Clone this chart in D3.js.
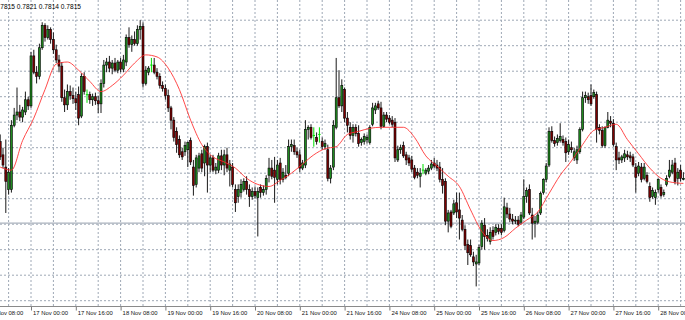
<!DOCTYPE html>
<html>
<head>
<meta charset="utf-8">
<script src="https://cdn.jsdelivr.net/npm/d3@7"></script>
<style>
	html, body { margin: 0; padding: 0; background: #fff; }
	svg { display: block; }
</style>
</head>
<body>
<svg id="chart" width="685" height="320"></svg>
<script>
// prices are kept in pips (1/10000), one entry per hourly bar
var PIP = 0.0001;

var opens = [
	7856,7843,7831,7809,7809,7872,7882,7885,7880,7885,
	7897,7891,7940,7924,7920,7948,7970,7958,7966,7956,
	7946,7936,7930,7899,7892,7905,7901,7898,7902,7881,
	7920,7902,7902,7897,7900,7896,7893,7913,7931,7934,
	7928,7933,7926,7934,7927,7934,7958,7951,7956,7952,
	7966,7969,7913,7924,7931,7931,7924,7920,7911,7908,
	7901,7889,7877,7866,7858,7846,7846,7848,7857,7831,
	7814,7830,7844,7835,7851,7833,7840,7828,7828,7842,
	7833,7843,7828,7831,7809,7802,7806,7809,7817,7809,
	7802,7807,7801,7811,7806,7809,7823,7830,7828,7819,
	7835,7819,7823,7825,7851,7852,7846,7843,7830,7833,
	7868,7870,7862,7860,7863,7856,7851,7848,7820,7831,
	7870,7899,7891,7907,7879,7870,7862,7870,7864,7855,
	7856,7858,7855,7873,7887,7893,7889,7871,7882,7879,
	7877,7875,7838,7848,7852,7843,7840,7838,7830,7826,
	7822,7828,7825,7827,7830,7835,7833,7831,7819,7817,
	7778,7787,7786,7796,7789,7779,7770,7755,7754,7743,
	7736,7737,7753,7774,7764,7758,7769,7767,7771,7771,
	7769,7791,7785,7780,7778,7779,7777,7782,7802,7809,
	7784,7776,7777,7786,7806,7819,7833,7866,7857,7855,
	7857,7858,7856,7846,7850,7840,7838,7846,7868,7899,
	7900,7901,7900,7902,7870,7867,7852,7870,7876,7874,
	7851,7840,7838,7840,7843,7842,7841,7831,7825,7831,
	7820,7823,7812,7802,7801,7809,7811,7804,7814,7822,
	7826,7835,7820,7828,7819
];

var highs = [
	7863,7850,7858,7830,7877,7889,7909,7892,7890,7905,
	7900,7944,7946,7930,7952,7973,7972,7970,7968,7963,
	7951,7941,7934,7907,7912,7911,7909,7905,7910,7923,
	7924,7907,7905,7903,7904,7901,7917,7936,7938,7940,
	7936,7938,7936,7938,7941,7961,7968,7960,7964,7970,
	7975,7973,7930,7930,7938,7938,7928,7923,7915,7912,
	7907,7891,7880,7870,7862,7850,7856,7856,7860,7838,
	7843,7845,7848,7853,7855,7843,7843,7835,7845,7848,
	7848,7850,7838,7835,7814,7814,7819,7820,7822,7814,
	7811,7812,7811,7814,7813,7823,7840,7838,7841,7838,
	7840,7830,7833,7858,7858,7858,7850,7848,7838,7877,
	7872,7873,7870,7865,7870,7860,7858,7853,7833,7877,
	7938,7926,7917,7909,7885,7875,7873,7873,7872,7860,
	7864,7863,7872,7894,7894,7896,7895,7885,7885,7882,
	7881,7879,7852,7853,7856,7846,7843,7842,7833,7830,
	7830,7834,7830,7833,7838,7840,7838,7836,7830,7820,
	7789,7789,7799,7806,7806,7784,7774,7760,7760,7748,
	7745,7755,7779,7781,7770,7772,7773,7775,7775,7775,
	7801,7796,7791,7785,7783,7783,7787,7819,7811,7814,
	7791,7783,7787,7807,7820,7835,7870,7871,7861,7863,
	7874,7862,7860,7858,7856,7850,7852,7870,7905,7905,
	7904,7912,7907,7905,7873,7871,7871,7885,7881,7878,
	7855,7846,7843,7848,7847,7846,7844,7835,7836,7835,
	7835,7826,7816,7811,7809,7820,7814,7809,7823,7838,
	7838,7840,7830,7833,7826
];

var lows = [
	7838,7830,7786,7804,7806,7870,7877,7876,7875,7882,
	7887,7889,7922,7913,7917,7946,7954,7956,7952,7942,
	7933,7924,7895,7885,7887,7897,7893,7887,7872,7879,
	7902,7894,7893,7891,7892,7884,7884,7909,7924,7924,
	7922,7924,7923,7924,7924,7930,7948,7944,7950,7950,
	7956,7909,7911,7921,7924,7922,7917,7908,7905,7897,
	7885,7868,7856,7845,7840,7838,7842,7831,7833,7803,
	7811,7826,7826,7822,7806,7826,7826,7824,7825,7828,
	7823,7826,7812,7811,7787,7796,7801,7807,7804,7792,
	7799,7800,7763,7801,7803,7804,7816,7819,7796,7814,
	7814,7816,7819,7822,7846,7843,7840,7826,7828,7830,
	7858,7858,7851,7853,7855,7848,7848,7817,7815,7828,
	7868,7889,7885,7875,7865,7858,7855,7861,7851,7852,
	7853,7854,7853,7871,7883,7887,7868,7870,7875,7873,
	7870,7836,7836,7844,7840,7833,7832,7826,7819,7820,
	7811,7824,7823,7824,7828,7830,7827,7816,7805,7774,
	7767,7771,7784,7781,7760,7768,7750,7735,7743,7734,
	7714,7735,7750,7750,7758,7755,7760,7764,7765,7764,
	7767,7781,7777,7775,7775,7773,7775,7780,7796,7784,
	7760,7762,7775,7784,7804,7816,7831,7855,7851,7852,
	7855,7852,7836,7843,7845,7837,7834,7844,7866,7894,
	7893,7891,7898,7855,7863,7850,7850,7869,7870,7851,
	7828,7834,7835,7836,7838,7836,7831,7806,7822,7816,
	7818,7815,7797,7800,7794,7806,7801,7802,7812,7820,
	7824,7814,7813,7817,7818
];

var closes = [
	7841,7833,7817,7826,7872,7882,7885,7880,7887,7897,
	7891,7940,7924,7920,7948,7970,7958,7966,7956,7946,
	7936,7930,7899,7892,7905,7901,7898,7894,7879,7920,
	7905,7902,7897,7900,7896,7893,7913,7931,7934,7928,
	7933,7926,7934,7927,7936,7958,7951,7956,7952,7966,
	7969,7913,7926,7928,7931,7924,7920,7911,7908,7901,
	7889,7877,7860,7853,7843,7841,7852,7855,7836,7813,
	7840,7842,7830,7851,7833,7840,7828,7831,7842,7833,
	7843,7830,7834,7814,7796,7809,7814,7817,7809,7802,
	7807,7803,7807,7806,7809,7820,7830,7822,7821,7833,
	7819,7826,7821,7851,7853,7846,7843,7830,7835,7868,
	7870,7860,7862,7856,7863,7851,7854,7820,7830,7872,
	7899,7891,7911,7879,7872,7862,7870,7864,7854,7858,
	7861,7860,7870,7889,7891,7889,7871,7882,7878,7875,
	7873,7840,7848,7850,7842,7838,7835,7829,7821,7823,
	7825,7828,7828,7830,7834,7832,7830,7819,7813,7778,
	7786,7773,7795,7787,7781,7770,7754,7747,7745,7738,
	7738,7752,7776,7763,7761,7767,7763,7772,7768,7767,
	7792,7785,7780,7778,7779,7775,7784,7802,7808,7786,
	7776,7778,7784,7805,7819,7832,7866,7857,7854,7859,
	7861,7855,7845,7853,7848,7846,7848,7868,7899,7901,
	7897,7893,7904,7868,7867,7852,7870,7877,7874,7853,
	7838,7838,7841,7844,7841,7840,7833,7821,7832,7819,
	7831,7817,7801,7808,7806,7819,7803,7806,7820,7828,
	7833,7817,7826,7820,7820
];

// moving average, read every 4th bar
var maStep = 4;
var maValues = [
	7831,7828,7857,7879,7907,7932,7934,7926,7915,7905,
	7911,7921,7933,7941,7939,7928,7907,7877,7853,7841,
	7836,7830,7820,7814,7812,7818,7825,7834,7843,7849,
	7851,7863,7866,7869,7870,7870,7870,7860,7842,7832,
	7822,7812,7789,7768,7759,7762,7771,7779,7787,7805,
	7823,7837,7853,7867,7870,7873,7858,7844,7830,7820,
	7816,7815
];

var tickLabels = [
	"16 Nov 08:00","17 Nov 00:00","17 Nov 16:00","18 Nov 08:00",
	"19 Nov 00:00","19 Nov 16:00","20 Nov 08:00","21 Nov 00:00",
	"21 Nov 16:00","24 Nov 08:00","25 Nov 00:00","25 Nov 16:00",
	"26 Nov 08:00","27 Nov 00:00","27 Nov 16:00","28 Nov 00:00"
];
var firstTickBar = -5, barsPerTick = 16;
var firstGridBar = 3, barsPerGrid = 8;

var gridLevels = [7700,7725,7750,7775,7800,7825,7850,7875,7900,7925,7950,7975];
var priceLine = 7776;
var headerValues = [0.7815, 0.7821, 0.7814, 0.7815];

var W = 685, H = 320, axisY = 306.5;
var svg = d3.select("#chart");

var x = d3.scaleLinear().domain([0, opens.length - 1]).range([0.2, 683.4]);
var y = d3.scaleLinear().domain([0.7700, 0.7975]).range([300.7, 20.2]);

var bars = opens.map(function(o, i){
	return {i: i, o: o * PIP, h: highs[i] * PIP, l: lows[i] * PIP, c: closes[i] * PIP};
});

// grid
var gridBars = [];
for (var g = firstGridBar; x(g) < W; g += barsPerGrid) gridBars.push(g);

var grid = svg.append("g")
	.attr("stroke", "#9ea8b6")
	.attr("stroke-width", 1)
	.attr("stroke-dasharray", "2,2");

grid.selectAll("line.v")
	.data(gridBars)
	.enter()
	.append("line")
		.attr("class", "v")
		.attr("x1", function(d){ return x(d); })
		.attr("x2", function(d){ return x(d); })
		.attr("y1", 0)
		.attr("y2", axisY);

grid.selectAll("line.h")
	.data(gridLevels)
	.enter()
	.append("line")
		.attr("class", "h")
		.attr("x1", 0)
		.attr("x2", W)
		.attr("y1", function(d){ return y(d * PIP); })
		.attr("y2", function(d){ return y(d * PIP); });

svg.append("line")
	.attr("x1", 0).attr("x2", W)
	.attr("y1", y(priceLine * PIP)).attr("y2", y(priceLine * PIP))
	.attr("stroke", "#aab2bd")
	.attr("stroke-width", 1.2);

// candles
var candles = svg.append("g").selectAll("g")
	.data(bars)
	.enter()
	.append("g");

candles.append("line")
	.attr("x1", function(d){ return x(d.i); })
	.attr("x2", function(d){ return x(d.i); })
	.attr("y1", function(d){ return y(d.h); })
	.attr("y2", function(d){ return y(d.l); })
	.attr("stroke", function(d){ return d.o === d.c ? "#00e000" : "#1a1a1a"; })
	.attr("stroke-width", 1);

candles.filter(function(d){ return d.o !== d.c; })
	.append("rect")
		.attr("x", function(d){ return x(d.i) - 1; })
		.attr("width", 2)
		.attr("y", function(d){ return y(Math.max(d.o, d.c)); })
		.attr("height", function(d){ return Math.max(1, Math.abs(y(d.o) - y(d.c))); })
		.attr("fill", function(d){ return d.c > d.o ? "#1f8a1f" : "#7d0000"; })
		.attr("stroke", "#000")
		.attr("stroke-width", 0.6);

candles.filter(function(d){ return d.o === d.c; })
	.append("line")
		.attr("x1", function(d){ return x(d.i) - 1.2; })
		.attr("x2", function(d){ return x(d.i) + 1.2; })
		.attr("y1", function(d){ return y(d.o); })
		.attr("y2", function(d){ return y(d.o); })
		.attr("stroke", "#00e000")
		.attr("stroke-width", 1);

// moving average
var ma = d3.line()
	.x(function(d, k){ return x(k * maStep); })
	.y(function(d){ return y(d * PIP); })
	.curve(d3.curveMonotoneX);

svg.append("path")
	.attr("d", ma(maValues))
	.attr("fill", "none")
	.attr("stroke", "#ff2a2a")
	.attr("stroke-opacity", 0.85)
	.attr("stroke-width", 1);

// time axis
var tickBars = tickLabels.map(function(t, k){ return firstTickBar + k * barsPerTick; });

svg.append("rect")
	.attr("x", 0).attr("y", axisY)
	.attr("width", W).attr("height", H - axisY)
	.attr("fill", "#fff");

var axis = svg.append("g")
	.attr("transform", "translate(0," + axisY + ")")
	.call(d3.axisBottom(x)
		.tickValues(tickBars)
		.tickFormat(function(d, k){ return tickLabels[k]; })
		.tickSize(4)
		.tickSizeOuter(0));

axis.select(".domain").remove();
axis.selectAll(".tick line").attr("stroke", "#7a7a7a");
axis.selectAll(".tick text")
	.attr("text-anchor", "start")
	.attr("x", 1.5)
	.attr("y", 4.3)
	.attr("fill", "#111")
	.style("font", "5.9px 'Liberation Sans', Arial, sans-serif");

svg.append("line")
	.attr("x1", 0).attr("x2", W)
	.attr("y1", axisY).attr("y2", axisY)
	.attr("stroke", "#8a8a8a")
	.attr("stroke-width", 1);

// header with last bar values
svg.append("text")
	.attr("x", -5.2)
	.attr("y", 8.5)
	.attr("fill", "#000")
	.style("font", "6.6px 'Liberation Sans', Arial, sans-serif")
	.text(headerValues.map(function(v){ return v.toFixed(4); }).join(" "));
</script>
</body>
</html>
